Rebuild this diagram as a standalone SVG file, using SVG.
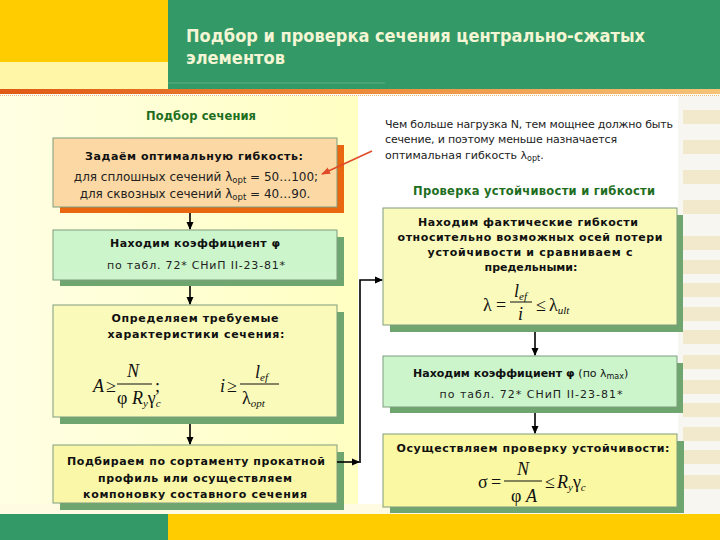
<svg xmlns="http://www.w3.org/2000/svg" width="720" height="540" viewBox="0 0 720 540">
<defs>
<linearGradient id="leftbg" x1="0" y1="0" x2="1" y2="0">
<stop offset="0" stop-color="#FFFFE4"/>
<stop offset="1" stop-color="#FFFFC2"/>
</linearGradient>
<linearGradient id="oline" x1="0" y1="0" x2="1" y2="0">
<stop offset="0" stop-color="#E05A14"/>
<stop offset="0.5" stop-color="#EC8A3A"/>
<stop offset="1" stop-color="#F6C478"/>
</linearGradient>
<marker id="ah" markerWidth="8" markerHeight="8" refX="7" refY="4" orient="auto" markerUnits="userSpaceOnUse">
<path d="M0,0.5 L8,4 L0,7.5 z" fill="#000"/>
</marker>
<marker id="ahr" markerWidth="9" markerHeight="8" refX="8" refY="4" orient="auto" markerUnits="userSpaceOnUse">
<path d="M0,0.5 L9,4 L0,7.5 z" fill="#E04A28"/>
</marker>
<style>
.b{font-family:"DejaVu Sans","Liberation Sans",sans-serif;font-size:11px;font-weight:bold;fill:#111;text-anchor:middle}
.bs{font-family:"DejaVu Sans","Liberation Sans",sans-serif;font-size:11px;font-weight:bold;fill:#111}
.n{font-family:"DejaVu Sans","Liberation Sans",sans-serif;font-size:11px;fill:#222}
.nc{font-family:"DejaVu Sans","Liberation Sans",sans-serif;font-size:11px;fill:#222;text-anchor:middle}
.nc12{font-family:"DejaVu Sans","Liberation Sans",sans-serif;font-size:12px;fill:#222;text-anchor:middle}
.h{font-family:"DejaVu Sans","Liberation Sans",sans-serif;font-size:11.5px;font-weight:bold;fill:#1E6E1E;text-anchor:middle}
.m{font-family:"Liberation Serif","DejaVu Serif",serif;font-size:18px;fill:#111}
.mi{font-family:"Liberation Serif","DejaVu Serif",serif;font-size:18px;font-style:italic;fill:#111}
.con{stroke:#000;stroke-width:1.6;fill:none}
.bar{stroke:#111;stroke-width:1}
.box{stroke:#7F9C7F;stroke-width:1}
.gs{fill:#6FA66F}
.st{fill:#F2E8CC}
</style>
</defs>

<!-- background -->
<rect x="0" y="0" width="720" height="540" fill="#FFFFFF"/>
<rect x="0" y="96" width="358" height="418" fill="url(#leftbg)"/>
<rect x="0" y="504" width="720" height="10" fill="#FFFBE2"/>
<g id="stripes">
<rect x="678" y="96" width="42" height="418" fill="#F7F6F0"/>
<rect class="st" x="683" y="110" width="37" height="14"/>
<rect class="st" x="683" y="140" width="37" height="14"/>
<rect class="st" x="683" y="170" width="37" height="14"/>
<rect class="st" x="683" y="200" width="37" height="14"/>
<rect class="st" x="683" y="236" width="37" height="14"/>
<rect class="st" x="683" y="260" width="37" height="14"/>
<rect class="st" x="683" y="283" width="37" height="14"/>
<rect class="st" x="683" y="307" width="37" height="14"/>
<rect class="st" x="683" y="330" width="37" height="14"/>
<rect class="st" x="683" y="355" width="37" height="14"/>
<rect class="st" x="683" y="380" width="37" height="14"/>
<rect class="st" x="683" y="403" width="37" height="14"/>
<rect class="st" x="683" y="427" width="37" height="14"/>
<rect class="st" x="683" y="450" width="37" height="14"/>
<rect class="st" x="683" y="475" width="37" height="14"/>
</g>

<!-- header -->
<g id="header">
<rect x="0" y="0" width="168" height="62" fill="#FFCC00"/>
<rect x="0" y="62" width="168" height="27" fill="#FFF6A8"/>
<rect x="168" y="0" width="552" height="89" fill="#339966"/>
<line x1="168" y1="83" x2="385" y2="83" stroke="#5DAF82" stroke-width="1"/>
<rect x="0" y="89" width="720" height="5" fill="url(#oline)"/>
<line x1="0" y1="95.5" x2="720" y2="95.5" stroke="#EDB878" stroke-width="1.2" stroke-dasharray="1 1"/>
<text x="186" y="42" font-family="'DejaVu Sans Condensed','DejaVu Sans',sans-serif" font-size="17" font-weight="bold" fill="#F3F5D4" textLength="459" lengthAdjust="spacingAndGlyphs">Подбор и проверка сечения центрально-сжатых</text>
<text x="186" y="64" font-family="'DejaVu Sans Condensed','DejaVu Sans',sans-serif" font-size="17" font-weight="bold" fill="#F3F5D4" textLength="99" lengthAdjust="spacingAndGlyphs">элементов</text>
</g>

<!-- footer -->
<g id="footer">
<rect x="0" y="514" width="168" height="26" fill="#339966"/>
<rect x="168" y="514" width="552" height="26" fill="#FFCC00"/>
</g>

<!-- headings -->
<text id="h-left" class="h" x="201" y="120" textLength="110" lengthAdjust="spacing">Подбор сечения</text>
<text id="h-right" class="h" x="534" y="195" textLength="242" lengthAdjust="spacing">Проверка устойчивости и гибкости</text>

<g id="note">
<text class="n" x="385" y="128" textLength="288" lengthAdjust="spacing">Чем больше нагрузка N, тем мощнее должно быть</text>
<text class="n" x="385" y="143" textLength="232" lengthAdjust="spacing">сечение, и поэтому меньше назначается</text>
<text class="n" x="385" y="159">оптимальная гибкость λ<tspan font-size="8" dy="2">opt</tspan><tspan dy="-2">.</tspan></text>
</g>

<!-- left nodes -->
<g id="node-l1">
<rect x="60" y="145" width="284" height="68" fill="#E8670F"/>
<rect class="box" x="53" y="138" width="284" height="69" fill="#FCD9A4"/>
<text class="b" x="194" y="160" textLength="218" lengthAdjust="spacing">Задаём оптимальную гибкость:</text>
<text class="nc12" x="196" y="181">для сплошных сечений λ<tspan font-size="8.5" dy="2">opt</tspan><tspan dy="-2"> = 50…100;</tspan></text>
<text class="nc12" x="195" y="198">для сквозных сечений λ<tspan font-size="8.5" dy="2">opt</tspan><tspan dy="-2"> = 40…90.</tspan></text>
</g>

<g id="node-l2">
<rect class="gs" x="60" y="237" width="284" height="49"/>
<rect class="box" x="53" y="230" width="284" height="50" fill="#CCF5CC"/>
<text class="b" x="195" y="247" textLength="170" lengthAdjust="spacing">Находим коэффициент φ</text>
<text class="nc" x="196" y="269" textLength="178" lengthAdjust="spacing">по табл. 72* СНиП II-23-81*</text>
</g>

<g id="node-l3">
<rect class="gs" x="60" y="312" width="284" height="112"/>
<rect class="box" x="53" y="305" width="284" height="112" fill="#FAFABA"/>
<text class="b" x="195" y="322" textLength="167" lengthAdjust="spacing">Определяем требуемые</text>
<text class="b" x="196" y="338" textLength="177" lengthAdjust="spacing">характеристики сечения:</text>
<text class="mi" x="93" y="392">A</text>
<text class="m" x="106" y="392">≥</text>
<text class="mi" x="133" y="377" text-anchor="middle">N</text>
<line class="bar" x1="117" y1="384" x2="152" y2="384"/>
<text class="m" x="117" y="404">φ <tspan font-style="italic">R</tspan><tspan font-style="italic" font-size="11" dy="3">y</tspan><tspan dy="-3">γ</tspan><tspan font-style="italic" font-size="11" dy="3">c</tspan></text>
<text class="m" x="155" y="392">;</text>
<text class="mi" x="220" y="392">i</text>
<text class="m" x="227" y="392">≥</text>
<text class="mi" x="255" y="378">l<tspan font-size="11" dy="3">ef</tspan></text>
<line class="bar" x1="240" y1="384" x2="279" y2="384"/>
<text class="m" x="242" y="404">λ<tspan font-style="italic" font-size="11" dy="3">opt</tspan></text>
</g>

<g id="node-l4">
<rect class="gs" x="60" y="452" width="284" height="58"/>
<rect class="box" x="53" y="445" width="284" height="58" fill="#FAF8A8"/>
<text class="b" x="196" y="465" textLength="258" lengthAdjust="spacing">Подбираем по сортаменту прокатной</text>
<text class="b" x="195" y="482" textLength="194" lengthAdjust="spacing">профиль или осуществляем</text>
<text class="b" x="195" y="498" textLength="224" lengthAdjust="spacing">компоновку составного сечения</text>
</g>

<!-- right nodes -->
<g id="node-r1">
<rect class="gs" x="390" y="215" width="293" height="117"/>
<rect class="box" x="383" y="208" width="294" height="117" fill="#FAFABC"/>
<text class="b" x="528" y="226" textLength="220" lengthAdjust="spacing">Находим фактические гибкости</text>
<text class="b" x="530" y="241" textLength="265" lengthAdjust="spacing">относительно возможных осей потери</text>
<text class="b" x="530" y="256" textLength="205" lengthAdjust="spacing">устойчивости и сравниваем с</text>
<text class="b" x="531" y="271">предельными:</text>
<text class="m" x="483" y="311">λ</text>
<text class="m" x="496" y="311">=</text>
<text class="mi" x="514" y="297">l<tspan font-size="11" dy="3">ef</tspan></text>
<line class="bar" x1="510" y1="302" x2="532" y2="302"/>
<text class="mi" x="518" y="320">i</text>
<text class="m" x="536" y="311">≤</text>
<text class="m" x="549" y="311">λ<tspan font-style="italic" font-size="11" dy="3">ult</tspan></text>
</g>

<g id="node-r2">
<rect class="gs" x="390" y="363" width="293" height="50"/>
<rect class="box" x="383" y="356" width="294" height="51" fill="#CCF5CC"/>
<text class="bs" x="413" y="377">Находим коэффициент φ <tspan font-weight="normal">(по λ</tspan><tspan font-weight="normal" font-size="8" dy="2">max</tspan><tspan font-weight="normal" dy="-2">)</tspan></text>
<text class="nc" x="531" y="398" textLength="183" lengthAdjust="spacing">по табл. 72* СНиП II-23-81*</text>
</g>

<g id="node-r3">
<rect class="gs" x="390" y="441" width="294" height="72"/>
<rect class="box" x="383" y="434" width="294" height="73" fill="#FAF8A2"/>
<text class="b" x="533" y="452" textLength="273" lengthAdjust="spacing">Осуществляем проверку устойчивости:</text>
<text class="m" x="478" y="488">σ</text>
<text class="m" x="491" y="488">=</text>
<text class="mi" x="523" y="475" text-anchor="middle">N</text>
<line class="bar" x1="504" y1="481" x2="542" y2="481"/>
<text class="m" x="511" y="502">φ <tspan font-style="italic">A</tspan></text>
<text class="m" x="545" y="488">≤</text>
<text class="mi" x="557" y="488">R<tspan font-size="11" dy="3">y</tspan><tspan font-style="normal" font-size="18" dy="-3">γ</tspan><tspan font-size="11" dy="3">c</tspan></text>
</g>

<!-- connectors -->
<g id="connectors">
<line class="con" x1="190" y1="213" x2="190" y2="229" marker-end="url(#ah)"/>
<line class="con" x1="190" y1="286" x2="190" y2="304" marker-end="url(#ah)"/>
<line class="con" x1="190" y1="424" x2="190" y2="444" marker-end="url(#ah)"/>
<line class="con" x1="535" y1="332" x2="535" y2="355" marker-end="url(#ah)"/>
<line class="con" x1="535" y1="413" x2="535" y2="433" marker-end="url(#ah)"/>
<line class="con" x1="337" y1="462" x2="359" y2="462" marker-end="url(#ah)"/>
<path class="con" d="M360,463 V280 H382" marker-end="url(#ah)"/>
<line x1="372" y1="151" x2="322" y2="174" stroke="#E04A28" stroke-width="1.5" marker-end="url(#ahr)"/>
</g>
</svg>
